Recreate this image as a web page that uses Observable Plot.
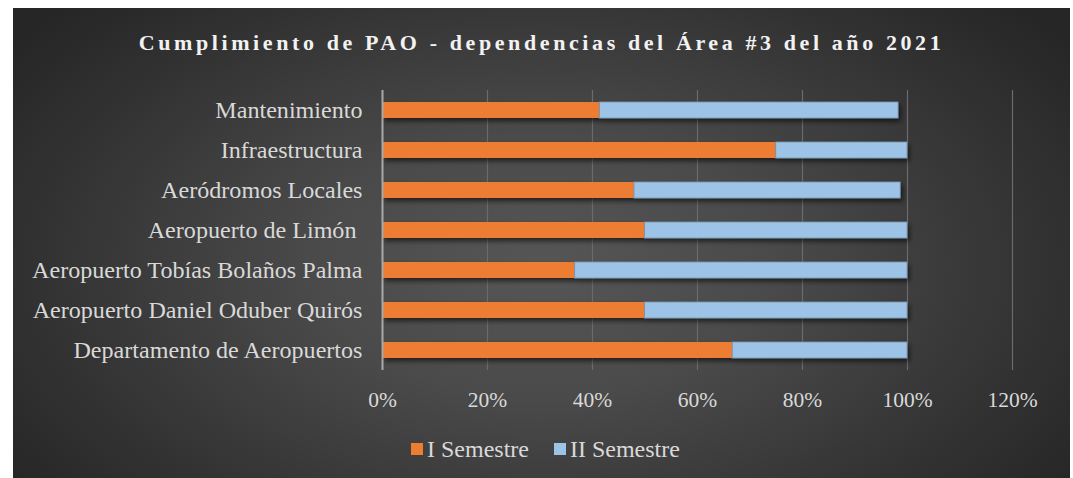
<!DOCTYPE html>
<html>
<head>
<meta charset="utf-8">
<script src="https://cdn.jsdelivr.net/npm/d3@7"></script>
<script src="https://cdn.jsdelivr.net/npm/@observablehq/plot@0.6"></script>
<style>
  html, body { margin: 0; padding: 0; background: #ffffff; }
  #frame {
    position: absolute; left: 13px; top: 8px; width: 1057px; height: 470px; overflow: hidden;
    background: radial-gradient(ellipse 62% 80% at 50% 55%, #565656 0%, #4a4a4a 35%, #333333 75%, #262626 100%);
    font-family: "Liberation Serif", "Times New Roman", serif;
  }
  #title {
    position: absolute; left: 0; top: 21px; width: 100%; text-align: center;
    color: #f2f2f2; font-weight: bold; font-size: 22px; line-height: 28px; letter-spacing: 3.6px;
  }
  #chart { position: absolute; left: 0; top: 0; }
  #chart svg text { white-space: pre; }
  #legend {
    position: absolute; left: 398px; top: 428px; display: flex; align-items: center;
    color: #d9d9d9; font-size: 24px; line-height: 26px;
  }
  .item { display: flex; align-items: center; margin-right: 25px; }
  .sw { width: 12px; height: 12px; margin-right: 4px; }
</style>
</head>
<body>
<div id="frame">
  <div id="title">Cumplimiento de PAO - dependencias del Área #3 del año 2021</div>
  <div id="chart"></div>
  <div id="legend"></div>
</div>
<script>
const categories = [
  "Mantenimiento",
  "Infraestructura",
  "Aeródromos Locales",
  "Aeropuerto de Limón ",
  "Aeropuerto Tobías Bolaños Palma",
  "Aeropuerto Daniel Oduber Quirós",
  "Departamento de Aeropuertos"
];
const series = ["I Semestre", "II Semestre"];
const colors = ["#ED7D31", "#9DC3E6"];
const semestre1 = [0.414, 0.75, 0.48, 0.50, 0.367, 0.50, 0.667];
const semestre2 = [0.569, 0.25, 0.507, 0.50, 0.633, 0.50, 0.333];
const xTicks = [0, 0.2, 0.4, 0.6, 0.8, 1.0, 1.2];

const rows = categories.flatMap((c, i) => [
  {cat: c, serie: series[0], v: semestre1[i]},
  {cat: c, serie: series[1], v: semestre2[i]}
]);

const chart = Plot.plot({
  width: 1057,
  height: 422,
  marginTop: 82,
  marginBottom: 60,
  marginLeft: 369,
  marginRight: 58,
  style: {background: "transparent", color: "#d9d9d9", fontFamily: "'Liberation Serif', 'Times New Roman', serif", fontSize: "21px", overflow: "visible"},
  x: {domain: [0, 1.2], label: null},
  y: {domain: categories, paddingInner: 0.6, paddingOuter: 0.3, label: null},
  color: {domain: series, range: colors},
  marks: [
    Plot.gridX(xTicks, {stroke: "#6b6b6b", strokeOpacity: 1, strokeWidth: 1.2}),
    Plot.barX(rows, Plot.stackX({
      y: "cat", x: "v", fill: "serie", order: series,
      stroke: d => d.serie === series[1] ? "#7893ad" : "none", strokeWidth: 0.8
    })),
    Plot.ruleX([0], {stroke: "#a8a8a8", strokeWidth: 2}),
    Plot.axisX({ticks: xTicks, tickSize: 0, tickPadding: 21, tickFormat: d => Math.round(d * 100) + "%", fontSize: 21.5, label: null}),
    Plot.axisY({tickSize: 0, tickPadding: 20, fontSize: 24.1, label: null})
  ]
});

// drop shadow for bars
const svg = d3.select(chart);
const defs = svg.insert("defs", ":first-child");
const f = defs.append("filter").attr("id", "shadow").attr("x", "-5%").attr("y", "-50%").attr("width", "110%").attr("height", "200%");
f.append("feDropShadow").attr("dx", 2).attr("dy", 3).attr("stdDeviation", 2.5).attr("flood-color", "#000").attr("flood-opacity", 0.6);
svg.selectAll("g[aria-label='bar']").attr("filter", "url(#shadow)");

document.getElementById("chart").appendChild(chart);

const legend = d3.select("#legend");
series.forEach((s, i) => {
  const it = legend.append("div").attr("class", "item");
  it.append("div").attr("class", "sw").style("background", colors[i]);
  it.append("span").text(s);
});
</script>
</body>
</html>
